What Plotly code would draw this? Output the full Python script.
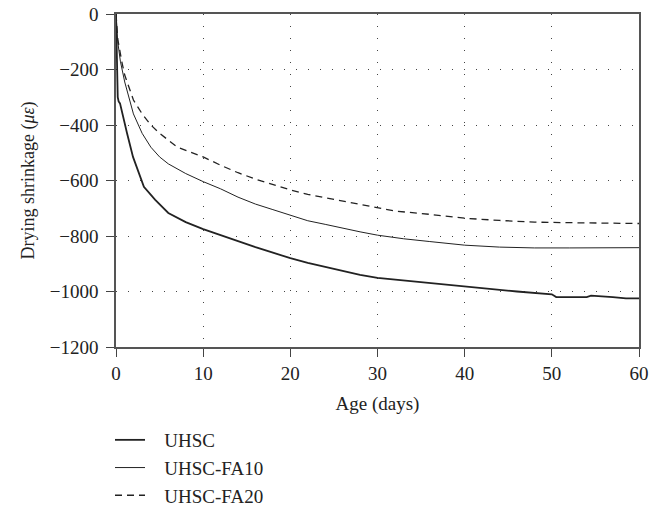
import plotly.graph_objects as go

uhsc_x = [0, 0.1, 0.2, 0.3, 0.46, 1.26, 1.95, 3.2, 4.5, 6.0, 7.0, 8.0, 10, 12, 14, 16, 18, 20, 22, 24, 26, 28, 30, 33, 36, 40, 43, 46, 50, 50.5, 54, 54.5, 57, 58.5, 60]
uhsc_y = [0, -150, -300, -315, -322, -429, -515, -623, -670, -717, -735, -750, -775, -797, -818, -840, -860, -880, -897, -912, -926, -940, -951, -960, -970, -983, -990, -1000, -1010, -1020, -1020, -1015, -1020, -1025, -1025]

fa10_x = [0, 0.2, 0.5, 1, 2, 3, 4, 5, 6, 8, 10, 12, 14, 16, 18, 20, 22, 24, 26, 28, 30, 33, 36, 40, 44, 48, 52, 56, 60]
fa10_y = [0, -100, -170, -245, -360, -430, -480, -515, -540, -575, -604, -630, -660, -685, -705, -724, -745, -758, -772, -785, -797, -810, -820, -833, -840, -843, -843, -842, -842]

fa20_x = [0, 0.2, 0.7, 1, 2, 3, 4, 5, 7, 10, 12, 14, 16, 18, 20, 22, 24, 26, 28, 30, 32, 36, 40, 44, 48, 52, 56, 60]
fa20_y = [0, -90, -177, -220, -310, -360, -400, -430, -479, -515, -545, -572, -595, -615, -634, -650, -662, -675, -688, -700, -710, -722, -736, -744, -750, -752, -754, -755]

x_ticks = [0, 10, 20, 30, 40, 50, 60]
y_ticks = [0, -200, -400, -600, -800, -1000, -1200]

FONT = "Liberation Serif"
INK = "#222222"
PAD = "&nbsp;&nbsp;&nbsp;"

fig = go.Figure()
fig.add_trace(go.Scatter(x=uhsc_x, y=uhsc_y, mode="lines", name=PAD + "UHSC",
                         line=dict(color=INK, width=1.8)))
fig.add_trace(go.Scatter(x=fa10_x, y=fa10_y, mode="lines", name=PAD + "UHSC-FA10",
                         line=dict(color=INK, width=1.0)))
fig.add_trace(go.Scatter(x=fa20_x, y=fa20_y, mode="lines", name=PAD + "UHSC-FA20",
                         line=dict(color=INK, width=1.3, dash="7px,5px")))

axis_common = dict(
    showline=True, linecolor="#555555", linewidth=1.5, mirror=True,
    ticks="outside", ticklen=8, tickwidth=1.3, tickcolor="#444444",
    showgrid=True, gridcolor="#444444", gridwidth=1, griddash="1px,11px",
    zeroline=False, tickfont=dict(family=FONT, size=19, color=INK),
)

fig.update_layout(
    width=661, height=507,
    margin=dict(l=116, r=22, t=14, b=160, autoexpand=False),
    plot_bgcolor="white", paper_bgcolor="white",
    font=dict(family=FONT, color=INK, size=19),
    xaxis=dict(range=[0, 60], tickvals=x_ticks, ticklabelstandoff=0, automargin=False,
               title=dict(text="Age (days)", font=dict(family=FONT, size=19, color=INK), standoff=14),
               **axis_common),
    yaxis=dict(range=[-1200, 0], tickvals=y_ticks, ticklabelstandoff=4, automargin=False,
               title=dict(text="Drying shrinkage (<i>με</i>)", font=dict(family=FONT, size=18, color=INK), standoff=10),
               **axis_common),
    legend=dict(orientation="v", x=-6 / 523, xanchor="left",
                y=-(421 - 347) / 333, yanchor="top",
                font=dict(family=FONT, size=19, color=INK), tracegroupgap=0,
                bgcolor="rgba(0,0,0,0)"),
    showlegend=True,
)

fig.write_html("out.html")
